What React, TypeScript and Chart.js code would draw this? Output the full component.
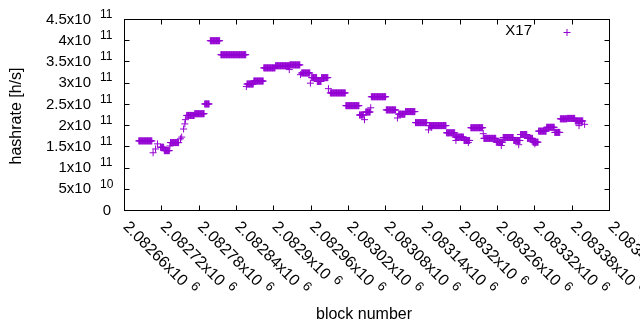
import React, { useEffect, useRef } from "react";
import { Chart, registerables } from "chart.js";

Chart.register(...registerables);

// Runs of equal hashrate values: [start block .. end block] -> value (h/s)
const runStart = [
  2082683, 2082706, 2082710, 2082713, 2082718, 2082724, 2082733, 2082734, 2082750, 2082752,
  2082755, 2082757, 2082758, 2082760, 2082773, 2082789, 2082798, 2082815, 2082856, 2082857,
  2082868, 2082884, 2082903, 2082925, 2082926, 2082943, 2082945, 2082959, 2082961, 2082970,
  2082977, 2082988, 2082991, 2083016, 2083038, 2083046, 2083048, 2083056, 2083057, 2083081,
  2083099, 2083101, 2083112, 2083128, 2083149, 2083150, 2083154, 2083178, 2083192, 2083193,
  2083206, 2083213, 2083217, 2083237, 2083238, 2083258, 2083266, 2083269, 2083286, 2083294,
  2083297, 2083308, 2083317, 2083320, 2083326, 2083339, 2083352, 2083361, 2083372, 2083385,
  2083391, 2083400,
];
const runEnd = [
  2082704, 2082706, 2082710, 2082713, 2082723, 2082732, 2082733, 2082747, 2082750, 2082752,
  2082755, 2082757, 2082758, 2082772, 2082788, 2082796, 2082813, 2082855, 2082856, 2082867,
  2082883, 2082902, 2082925, 2082925, 2082942, 2082943, 2082958, 2082959, 2082969, 2082976,
  2082987, 2082988, 2083015, 2083037, 2083044, 2083046, 2083055, 2083056, 2083080, 2083096,
  2083099, 2083111, 2083127, 2083146, 2083149, 2083177, 2083154, 2083191, 2083205, 2083193,
  2083215, 2083213, 2083236, 2083237, 2083257, 2083268, 2083266, 2083285, 2083296, 2083294,
  2083307, 2083316, 2083325, 2083320, 2083338, 2083351, 2083360, 2083371, 2083384, 2083397,
  2083391, 2083400,
];
const runHashrate = [
  1.64e11, 1.36e11, 1.45e11, 1.57e11, 1.49e11, 1.41e11, 1.52e11, 1.60e11, 1.69e11, 1.73e11,
  1.92e11, 2.04e11, 2.14e11, 2.24e11, 2.28e11, 2.51e11, 4.00e11, 3.67e11, 2.92e11, 2.98e11,
  3.05e11, 3.36e11, 3.41e11, 3.32e11, 3.43e11, 3.20e11, 3.24e11, 3.00e11, 3.13e11, 3.04e11,
  3.13e11, 2.87e11, 2.77e11, 2.47e11, 2.25e11, 2.14e11, 2.32e11, 2.42e11, 2.68e11, 2.37e11,
  2.18e11, 2.27e11, 2.33e11, 2.07e11, 1.90e11, 2.00e11, 1.96e11, 1.83e11, 1.73e11, 1.65e11,
  1.65e11, 1.60e11, 1.95e11, 1.81e11, 1.70e11, 1.61e11, 1.53e11, 1.72e11, 1.65e11, 1.55e11,
  1.79e11, 1.70e11, 1.61e11, 1.57e11, 1.87e11, 1.96e11, 1.84e11, 2.16e11, 2.17e11, 2.11e11,
  2.00e11, 2.03e11,
];

const seriesName = "X17";
const xTitle = "block number";
const yTitle = "hashrate [h/s]";
const xMin = 2082660;
const xMax = 2083440;
const xStep = 60;
const yMin = 0;
const yMax = 4.5e11;
const yStep = 5e10;

const COLOR = "#9400d3";
const FONT = "'Liberation Sans', Arial, sans-serif";

function sci(v: number, digits: number): [string, string] {
  if (v === 0) return ["0", ""];
  const e = Math.floor(Math.log10(Math.abs(v)) + 1e-9);
  const m = parseFloat((v / Math.pow(10, e)).toFixed(digits)).toString();
  return [m + "x10", String(e)];
}

export default function App() {
  const ref = useRef<HTMLCanvasElement | null>(null);

  useEffect(() => {
    if (!ref.current) return;
    const points: { x: number; y: number }[] = [];
    for (let i = 0; i < runStart.length; i++) {
      for (let b = runStart[i]; b <= runEnd[i]; b++) {
        points.push({ x: b, y: runHashrate[i] });
      }
    }

    const deco = {
      id: "gnuplotDeco",
      afterDraw(chart: any) {
        const ctx = chart.ctx as CanvasRenderingContext2D;
        const a = chart.chartArea;
        const xs = chart.scales.x;
        const ys = chart.scales.y;
        ctx.save();
        ctx.strokeStyle = "#000";
        ctx.fillStyle = "#000";
        ctx.lineWidth = 1;
        ctx.strokeRect(a.left, a.top, a.right - a.left, a.bottom - a.top);
        const T = 5;
        ctx.beginPath();
        for (let v = xMin; v <= xMax + 1e-6; v += xStep) {
          const p = Math.floor(xs.getPixelForValue(v)) + 0.5;
          ctx.moveTo(p, a.bottom);
          ctx.lineTo(p, a.bottom - T);
          ctx.moveTo(p, a.top);
          ctx.lineTo(p, a.top + T);
        }
        for (let v = yMin; v <= yMax + 1; v += yStep) {
          const p = Math.floor(ys.getPixelForValue(v)) + 0.5;
          ctx.moveTo(a.left, p);
          ctx.lineTo(a.left + T, p);
          ctx.moveTo(a.right, p);
          ctx.lineTo(a.right - T, p);
        }
        ctx.stroke();

        // y tick labels
        const R = 111;
        for (let v = yMin; v <= yMax + 1; v += yStep) {
          const p = ys.getPixelForValue(v);
          const [main, sup] = sci(v, 2);
          ctx.textBaseline = "middle";
          if (!sup) {
            ctx.font = "15px " + FONT;
            ctx.textAlign = "right";
            ctx.fillText(main, R, p);
          } else {
            ctx.font = "12px " + FONT;
            ctx.textAlign = "left";
            ctx.fillText(sup, R - 11, p - 5);
            ctx.font = "15px " + FONT;
            ctx.textAlign = "right";
            ctx.fillText(main, R - 20, p);
          }
        }

        // x tick labels rotated
        for (let v = xMin; v <= xMax + 1e-6; v += xStep) {
          const p = xs.getPixelForValue(v);
          const [main, sup] = sci(v, 5);
          ctx.save();
          ctx.translate(p + 1, a.bottom + 14);
          ctx.rotate(Math.PI / 4);
          ctx.font = "16px " + FONT;
          ctx.textAlign = "left";
          ctx.textBaseline = "middle";
          ctx.fillText(main, 0, 0);
          const w = ctx.measureText(main).width;
          ctx.font = "13px " + FONT;
          ctx.fillText(sup, w + 6, -5);
          ctx.restore();
        }

        // axis titles
        ctx.font = "16px " + FONT;
        ctx.textAlign = "center";
        ctx.textBaseline = "middle";
        ctx.fillText(xTitle, 364, 315);
        ctx.save();
        ctx.translate(17, 116);
        ctx.rotate(-Math.PI / 2);
        ctx.fillText(yTitle, 0, 0);
        ctx.restore();

        // legend
        ctx.font = "15px " + FONT;
        ctx.textAlign = "right";
        ctx.fillText(seriesName, 532, 31);
        ctx.strokeStyle = COLOR;
        ctx.beginPath();
        ctx.moveTo(563.5, 32.5);
        ctx.lineTo(570.5, 32.5);
        ctx.moveTo(567, 29);
        ctx.lineTo(567, 36);
        ctx.stroke();
        ctx.restore();
      },
    };

    const chart = new Chart(ref.current, {
      type: "scatter",
      data: {
        datasets: [
          {
            label: seriesName,
            data: points,
            pointStyle: "cross",
            pointRadius: 3.5,
            borderColor: COLOR,
            backgroundColor: COLOR,
            borderWidth: 1,
            showLine: false,
          },
        ],
      },
      options: {
        responsive: false,
        animation: false,
        events: [],
        layout: { padding: { left: 124.5, right: 30.5, top: 19.5, bottom: 119.5 } },
        plugins: { legend: { display: false }, tooltip: { enabled: false } },
        scales: {
          x: { type: "linear", display: false, min: xMin, max: xMax, ticks: { stepSize: xStep } },
          y: { type: "linear", display: false, min: yMin, max: yMax, ticks: { stepSize: yStep } },
        },
      },
      plugins: [deco],
    });
    return () => chart.destroy();
  }, []);

  return (
    <div style={{ position: "fixed", left: 0, top: 0, width: 640, height: 330, background: "#fff" }}>
      <canvas ref={ref} width={640} height={330} style={{ display: "block" }} />
    </div>
  );
}
